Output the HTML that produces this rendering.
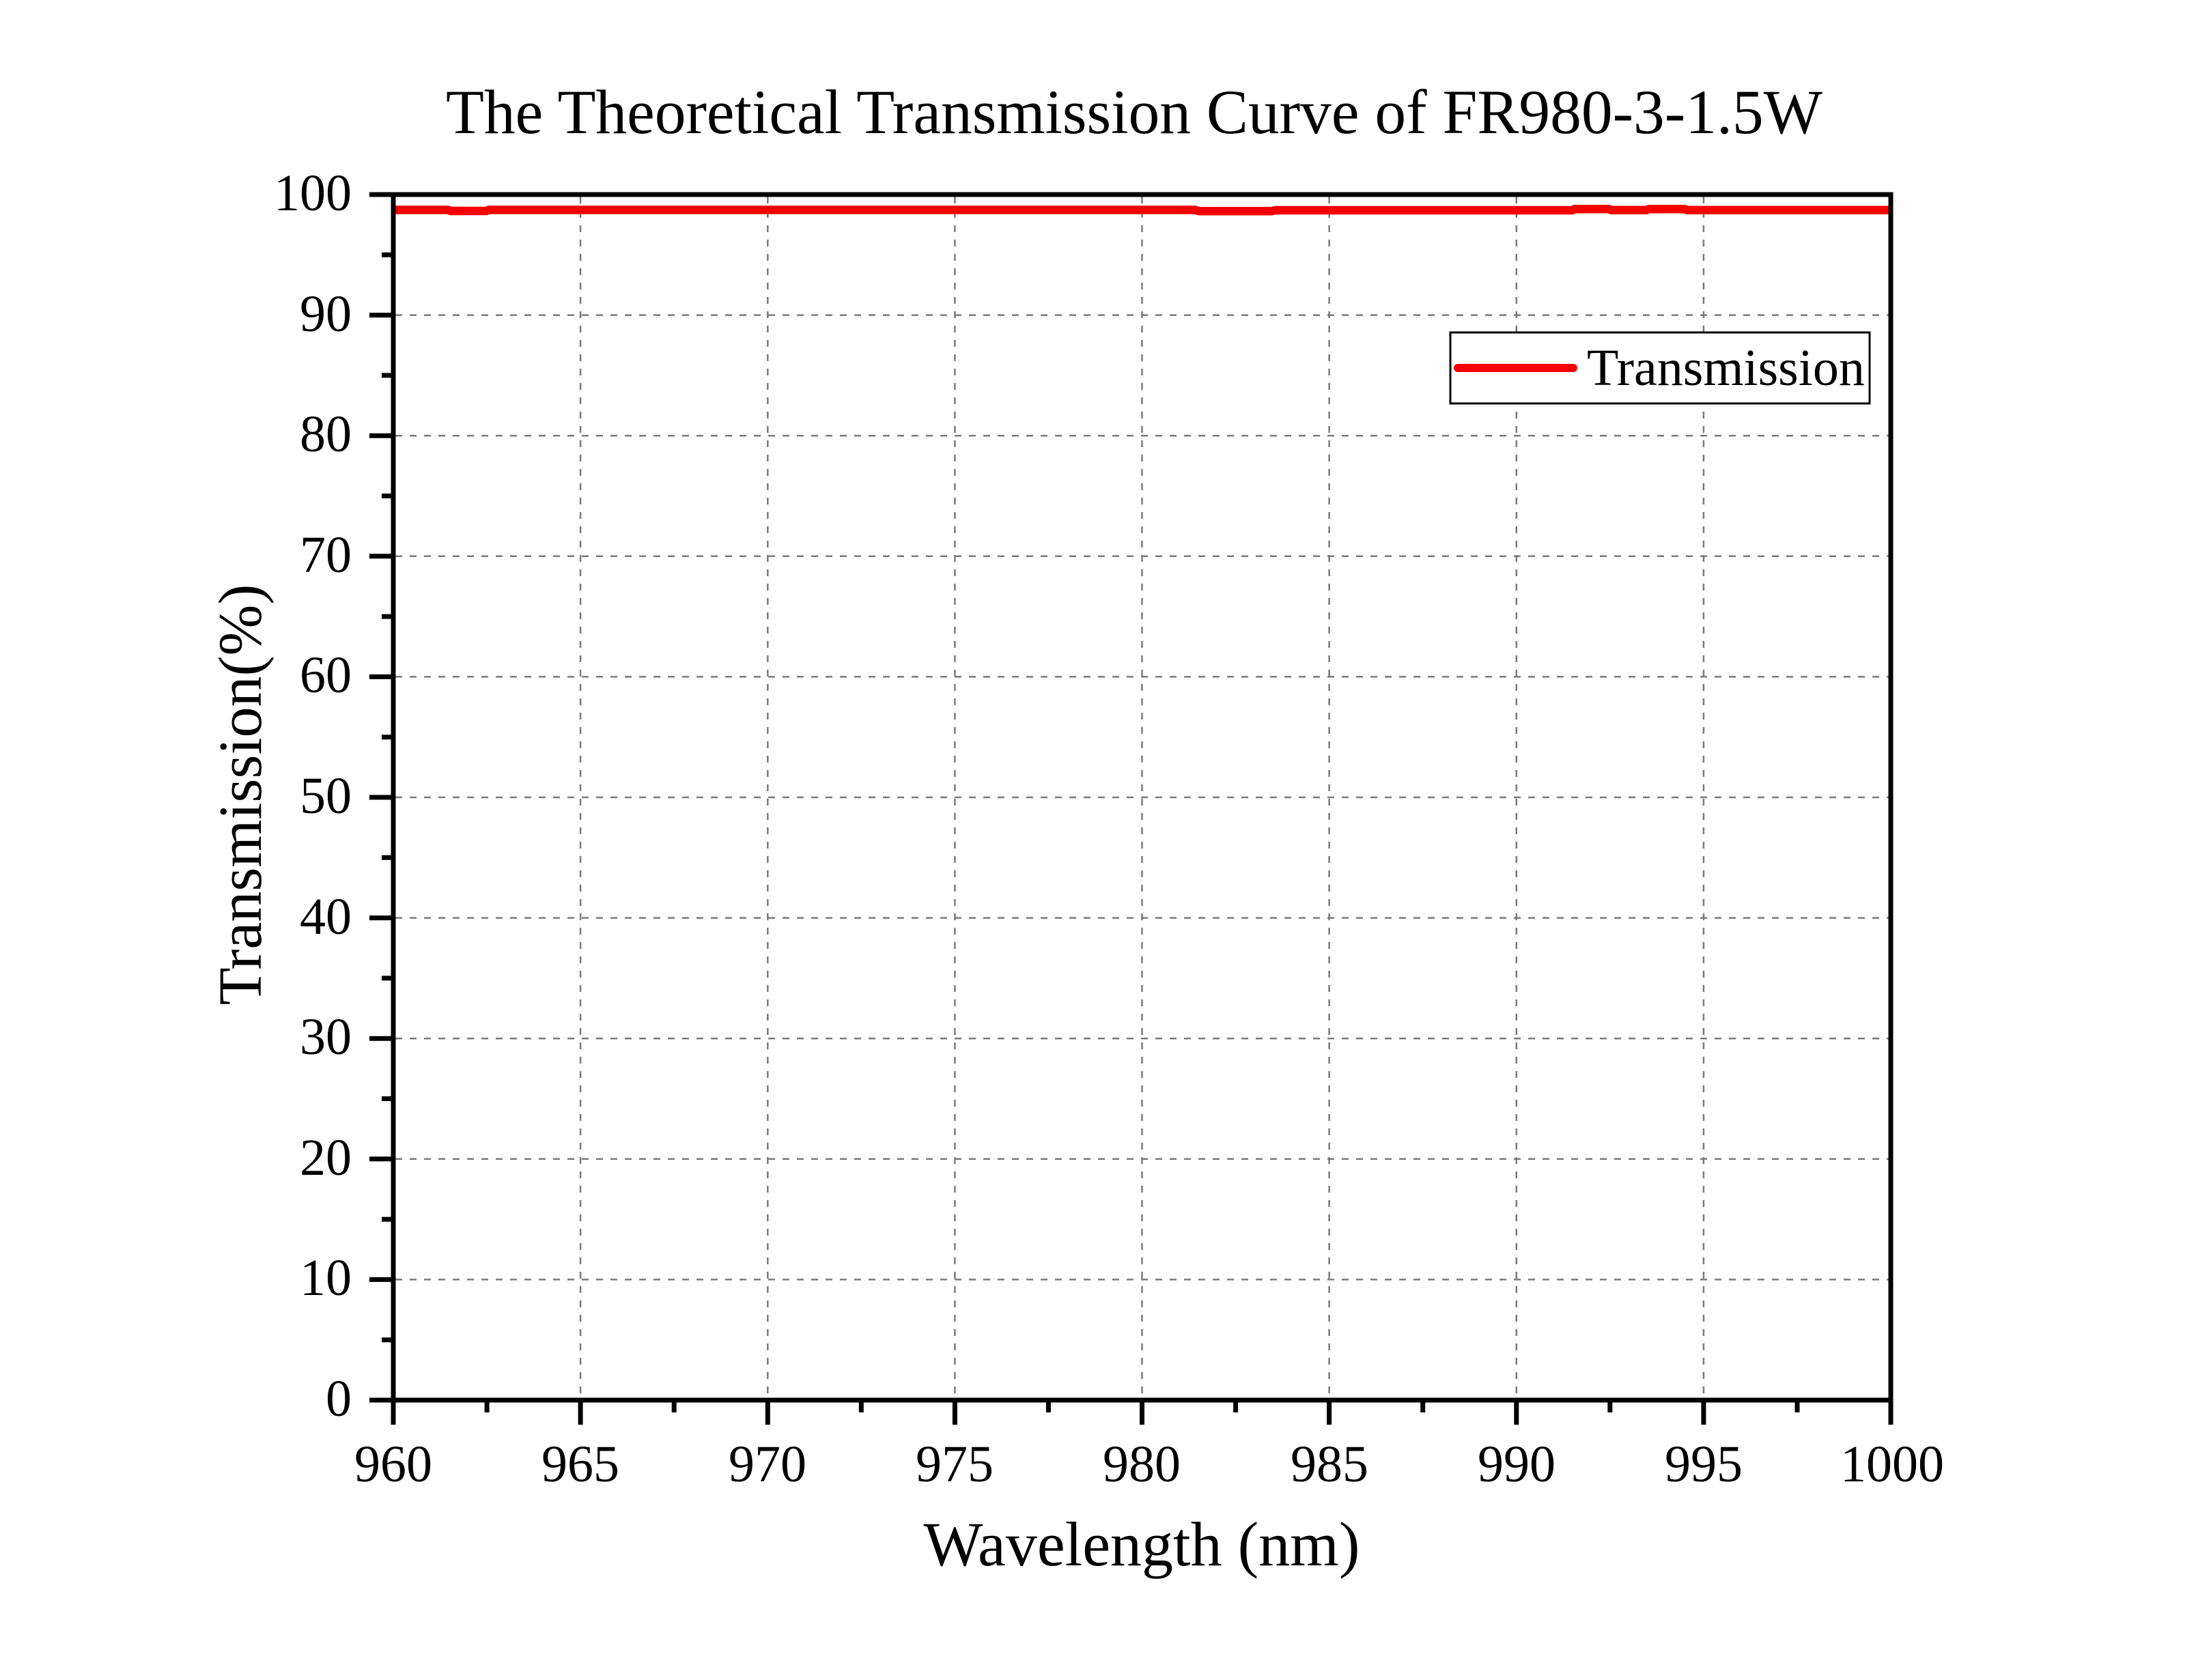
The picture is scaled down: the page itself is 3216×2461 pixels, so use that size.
<!DOCTYPE html>
<html>
<head>
<meta charset="utf-8">
<style>
  html, body { margin:0; padding:0; background:#fff; }
  svg { display:block; }
  text { font-family: "Liberation Serif", "Times New Roman", serif; fill:#000; }
</style>
</head>
<body>
<svg width="3216" height="2461" viewBox="0 0 3216 2461" xmlns="http://www.w3.org/2000/svg">
  <rect x="0" y="0" width="3216" height="2461" fill="#fff"/>

  <!-- Title -->
  <text x="1661" y="195" font-size="92" text-anchor="middle" textLength="2016" lengthAdjust="spacingAndGlyphs">The Theoretical Transmission Curve of FR980-3-1.5W</text>

  <!-- Grid lines -->
  <g stroke="#7a7a7a" stroke-width="2.5" stroke-dasharray="10 11" fill="none">
    <line x1="850.1" y1="288" x2="850.1" y2="2048"/>
    <line x1="1124.3" y1="288" x2="1124.3" y2="2048"/>
    <line x1="1398.4" y1="288" x2="1398.4" y2="2048"/>
    <line x1="1672.5" y1="288" x2="1672.5" y2="2048"/>
    <line x1="1946.6" y1="288" x2="1946.6" y2="2048"/>
    <line x1="2220.8" y1="288" x2="2220.8" y2="2048"/>
    <line x1="2494.9" y1="288" x2="2494.9" y2="2048"/>
    <line x1="579" y1="1874.4" x2="2766" y2="1874.4"/>
    <line x1="579" y1="1697.8" x2="2766" y2="1697.8"/>
    <line x1="579" y1="1521.2" x2="2766" y2="1521.2"/>
    <line x1="579" y1="1344.6" x2="2766" y2="1344.6"/>
    <line x1="579" y1="1168" x2="2766" y2="1168"/>
    <line x1="579" y1="991.4" x2="2766" y2="991.4"/>
    <line x1="579" y1="814.8" x2="2766" y2="814.8"/>
    <line x1="579" y1="638.2" x2="2766" y2="638.2"/>
    <line x1="579" y1="461.6" x2="2766" y2="461.6"/>
  </g>

  <!-- Data line -->
  <polyline fill="none" stroke="#f50000" stroke-width="12.5"
    points="578,307.5 656,307.5 660,309 712,309 716,307.5 1750,307.5 1756,309.3 1862,309.3 1868,308 2302,308 2306,306.3 2356,306.3 2360,307.8 2411,307.8 2415,306.3 2467,306.3 2471,307.8 2767,307.8"/>

  <!-- Axis frame -->
  <rect x="576" y="285" width="2193" height="1766" fill="none" stroke="#000" stroke-width="7"/>

  <!-- Y ticks -->
  <g stroke="#000" stroke-width="7">
    <line x1="541" y1="285" x2="576" y2="285"/>
    <line x1="541" y1="461.6" x2="576" y2="461.6"/>
    <line x1="541" y1="638.2" x2="576" y2="638.2"/>
    <line x1="541" y1="814.8" x2="576" y2="814.8"/>
    <line x1="541" y1="991.4" x2="576" y2="991.4"/>
    <line x1="541" y1="1168" x2="576" y2="1168"/>
    <line x1="541" y1="1344.6" x2="576" y2="1344.6"/>
    <line x1="541" y1="1521.2" x2="576" y2="1521.2"/>
    <line x1="541" y1="1697.8" x2="576" y2="1697.8"/>
    <line x1="541" y1="1874.4" x2="576" y2="1874.4"/>
    <line x1="541" y1="2051" x2="576" y2="2051"/>
    <line x1="559" y1="373.3" x2="576" y2="373.3"/>
    <line x1="559" y1="549.9" x2="576" y2="549.9"/>
    <line x1="559" y1="726.5" x2="576" y2="726.5"/>
    <line x1="559" y1="903.1" x2="576" y2="903.1"/>
    <line x1="559" y1="1079.7" x2="576" y2="1079.7"/>
    <line x1="559" y1="1256.3" x2="576" y2="1256.3"/>
    <line x1="559" y1="1432.9" x2="576" y2="1432.9"/>
    <line x1="559" y1="1609.5" x2="576" y2="1609.5"/>
    <line x1="559" y1="1786.1" x2="576" y2="1786.1"/>
    <line x1="559" y1="1962.7" x2="576" y2="1962.7"/>
  </g>

  <!-- X ticks -->
  <g stroke="#000" stroke-width="7">
    <line x1="576" y1="2051" x2="576" y2="2087"/>
    <line x1="850.1" y1="2051" x2="850.1" y2="2087"/>
    <line x1="1124.3" y1="2051" x2="1124.3" y2="2087"/>
    <line x1="1398.4" y1="2051" x2="1398.4" y2="2087"/>
    <line x1="1672.5" y1="2051" x2="1672.5" y2="2087"/>
    <line x1="1946.6" y1="2051" x2="1946.6" y2="2087"/>
    <line x1="2220.8" y1="2051" x2="2220.8" y2="2087"/>
    <line x1="2494.9" y1="2051" x2="2494.9" y2="2087"/>
    <line x1="2769" y1="2051" x2="2769" y2="2087"/>
    <line x1="713.1" y1="2051" x2="713.1" y2="2069"/>
    <line x1="987.2" y1="2051" x2="987.2" y2="2069"/>
    <line x1="1261.3" y1="2051" x2="1261.3" y2="2069"/>
    <line x1="1535.4" y1="2051" x2="1535.4" y2="2069"/>
    <line x1="1809.6" y1="2051" x2="1809.6" y2="2069"/>
    <line x1="2083.7" y1="2051" x2="2083.7" y2="2069"/>
    <line x1="2357.8" y1="2051" x2="2357.8" y2="2069"/>
    <line x1="2632" y1="2051" x2="2632" y2="2069"/>
  </g>

  <!-- Y tick labels -->
  <g font-size="76" text-anchor="end">
    <text x="515" y="308">100</text>
    <text x="515" y="485">90</text>
    <text x="515" y="661">80</text>
    <text x="515" y="838">70</text>
    <text x="515" y="1014">60</text>
    <text x="515" y="1191">50</text>
    <text x="515" y="1368">40</text>
    <text x="515" y="1544">30</text>
    <text x="515" y="1721">20</text>
    <text x="515" y="1897">10</text>
    <text x="515" y="2074">0</text>
  </g>

  <!-- X tick labels -->
  <g font-size="76" text-anchor="middle">
    <text x="576" y="2170">960</text>
    <text x="850" y="2170">965</text>
    <text x="1124" y="2170">970</text>
    <text x="1398" y="2170">975</text>
    <text x="1672" y="2170">980</text>
    <text x="1947" y="2170">985</text>
    <text x="2221" y="2170">990</text>
    <text x="2495" y="2170">995</text>
    <text x="2771" y="2170">1000</text>
  </g>

  <!-- Axis titles -->
  <text x="1672" y="2293" font-size="92" text-anchor="middle">Wavelength (nm)</text>
  <text transform="translate(382,1164) rotate(-90)" font-size="90" text-anchor="middle">Transmission(%)</text>

  <!-- Legend -->
  <rect x="2124" y="487" width="614" height="104" fill="#fff" stroke="#000" stroke-width="3"/>
  <line x1="2135" y1="539" x2="2304" y2="539" stroke="#f50000" stroke-width="12" stroke-linecap="round"/>
  <text x="2324" y="564" font-size="76">Transmission</text>
</svg>
</body>
</html>
